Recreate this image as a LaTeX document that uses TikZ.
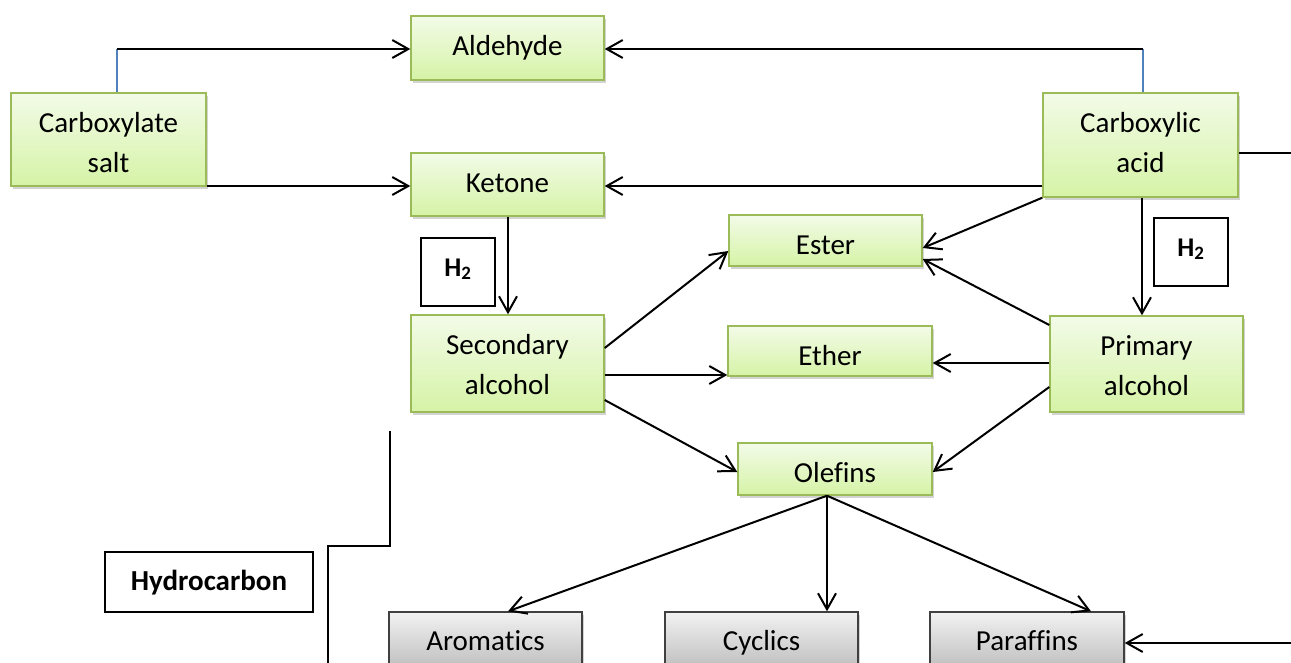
\documentclass[tikz,border=0pt]{standalone}
\usepackage{fontspec}
\setmainfont[Ligatures={NoCommon}]{Carlito}
\usetikzlibrary{arrows.meta,shadows,calc}
\definecolor{gborder}{HTML}{9BBB59}
\definecolor{gtop}{HTML}{F3FBE8}
\definecolor{gbot}{HTML}{D5F3A6}
\definecolor{ktop}{HTML}{F2F2F2}
\definecolor{kbot}{HTML}{BDBDBD}
\definecolor{blueln}{HTML}{4F81BD}
\begin{document}
\begin{tikzpicture}[x=1pt,y=-1pt,
  gbox/.style={draw=gborder, line width=1.4pt, top color=gtop, bottom color=gbot,
    inner sep=0pt, align=center, font=\fontsize{29}{40}\selectfont, text height=39pt,
    drop shadow={shadow xshift=2pt, shadow yshift=-3pt, opacity=0.35}},
  gboxtwo/.style={gbox, text height=79pt},
  kbox/.style={draw=black!75, line width=1.4pt, top color=ktop, bottom color=kbot,
    inner sep=0pt, align=center, font=\fontsize{29}{40}\selectfont, text height=38pt,
    drop shadow={shadow xshift=2pt, shadow yshift=-3pt, opacity=0.35}},
  lbox/.style={draw=black, line width=1.5pt, fill=white, inner sep=0pt,
    font=\fontsize{27}{30}\selectfont\bfseries},
  arr/.style={line width=2pt, -{Straight Barb[length=16pt,width=18pt,line width=2pt]}},
  ln/.style={line width=2pt},
  bln/.style={line width=1.3pt, draw=blueln}
]
\clip (0,0) rectangle (1291,662);
\useasboundingbox (0,0) rectangle (1291,662);

% nodes (text baseline 39pt below the top edge)
\node[gbox, minimum width=193pt, text depth=25pt] (ald) at (507.5,48) {Aldehyde};
\node[gboxtwo, minimum width=195pt, text depth=14pt] (salt) at (108.5,139.5) {Carboxylate\\salt};
\node[gbox, minimum width=193pt, text depth=24pt] (ket) at (507.5,184.5) {Ketone};
\node[gboxtwo, minimum width=195pt, text depth=25pt] (acid) at (1140.5,145) {Carboxylic\\acid};
\node[gboxtwo, minimum width=193pt, text depth=18pt] (sec) at (507.5,363.5) {Secondary\\alcohol};
\node[gbox, minimum width=193pt, text depth=12pt] (ester) at (825.5,240.5) {Ester};
\node[gbox, minimum width=204pt, text depth=11pt] (ether) at (830,351) {Ether};
\node[gbox, minimum width=194pt, text depth=13pt] (olef) at (835,469) {Olefins};
\node[gboxtwo, minimum width=193pt, text depth=17pt] (prim) at (1146.5,364) {Primary\\alcohol};
\node[kbox, minimum width=193pt, text depth=20pt] (arom) at (485.5,641) {Aromatics};
\node[kbox, minimum width=193pt, text depth=20pt] (cyc) at (761.5,641) {Cyclics};
\node[kbox, minimum width=194pt, text depth=20pt] (par) at (1027,641) {Paraffins};
\node[lbox, minimum width=74pt, text height=38pt, text depth=30pt] (h2a) at (458,272) {H\textsubscript{2}};
\node[lbox, minimum width=74pt, text height=38pt, text depth=30pt] (h2b) at (1191,252) {H\textsubscript{2}};
\node[lbox, minimum width=208pt, text height=38pt, text depth=22pt, font=\fontsize{29}{30}\selectfont\bfseries] (hydro) at (209,582) {Hydrocarbon};

% coordinates
\coordinate (tl) at (117,49);
\coordinate (tr) at (1143,49);
\coordinate (rend1) at (1292,153);
\coordinate (rend2) at (1292,643);
\coordinate (hc1) at (390,431);
\coordinate (hc2) at (390,546);
\coordinate (hc3) at (328,546);
\coordinate (hc4) at (328,670);

% top connectors
\draw[bln] (salt.north -| tl) -- (tl);
\draw[arr] (tl) -- (ald.west |- tl);
\draw[bln] (acid.north -| tr) -- (tr);
\draw[arr] (tr) -- (ald.east |- tr);
\draw[arr] (salt.east |- 0,186) -- (ket.west |- 0,186);
\draw[arr] (acid.west |- 0,186) -- (ket.east |- 0,186);
\draw[ln] (acid.east |- rend1) -- (rend1);

% hydrogenation
\draw[arr] (ket.south -| 508,0) -- (sec.north -| 508,0);
\draw[arr] (acid.south -| 1142,0) -- (prim.north -| 1142,0);

% to ester / ether / olefins
\draw[arr] (acid.south west) -- (ester.east |- 0,248);
\draw[arr] (prim.west |- 0,325) -- (ester.east |- 0,259);
\draw[arr] (prim.west |- 0,363) -- (ether.east |- 0,363);
\draw[arr] (prim.west |- 0,387) -- (olef.east |- 0,472);
\draw[arr] (sec.east |- 0,348) -- (ester.west |- 0,251);
\draw[arr] (sec.east |- 0,375) -- (ether.west |- 0,375);
\draw[arr] (sec.east |- 0,400) -- (olef.west |- 0,472);

% olefins to products
\coordinate (ob) at (olef.south -| 827,0);
\draw[arr] (ob) -- (arom.north -| 508,0);
\draw[arr] (ob) -- (cyc.north -| 827,0);
\draw[arr] (ob) -- (par.north -| 1091,0);
\draw[arr] (rend2) -- (par.east |- rend2);

% hydrocarbon bracket line
\draw[line width=1.5pt] (hc1) -- (hc2) -- (hc3) -- (hc4);
\end{tikzpicture}
\end{document}
